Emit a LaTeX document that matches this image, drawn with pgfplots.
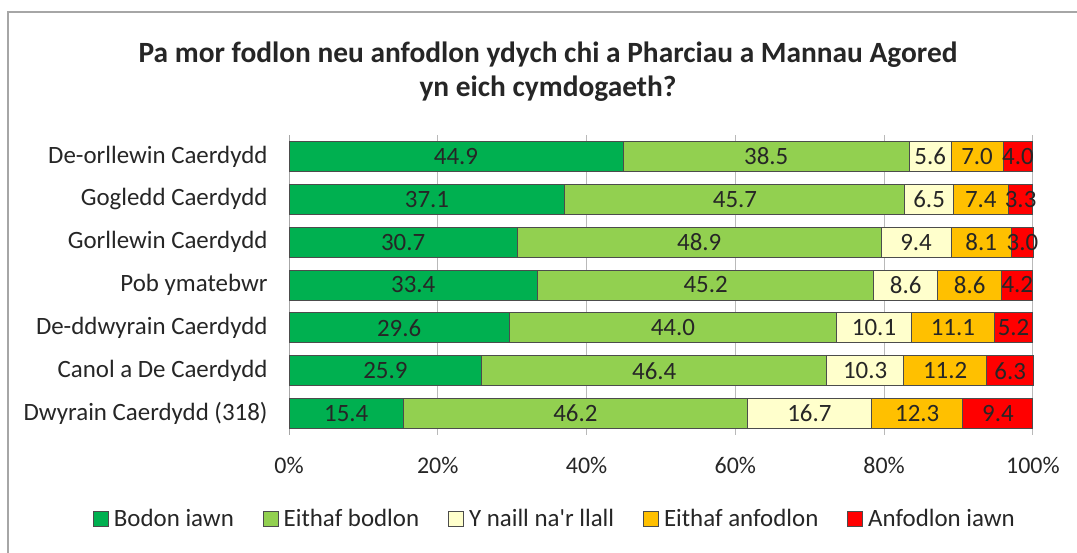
\documentclass[border=0pt]{standalone}
\usepackage{pgfplots}
\pgfplotsset{compat=1.18}
\usepackage{pgfplotstable}
\usepackage{fontspec}
\setmainfont{Carlito}

\definecolor{c1}{HTML}{00B050}
\definecolor{c2}{HTML}{92D050}
\definecolor{c3}{HTML}{FFFFCC}
\definecolor{c4}{HTML}{FFC000}
\definecolor{c5}{HTML}{FF0000}
\definecolor{txt}{HTML}{262626}

% rows top to bottom
\pgfplotstableread{
idx a b c d e
0 44.9 38.5 5.6 7.0 4.0
1 37.1 45.7 6.5 7.4 3.3
2 30.7 48.9 9.4 8.1 3.0
3 33.4 45.2 8.6 8.6 4.2
4 29.6 44.0 10.1 11.1 5.2
5 25.9 46.4 10.3 11.2 6.3
6 15.4 46.2 16.7 12.3 9.4
}\data

\begin{document}
\begin{tikzpicture}
\useasboundingbox (0,0) rectangle (1077bp,553bp);
\fill[white] (0,0) rectangle (1077bp,553bp);
\draw[gray!70, line width=1.3bp] (8bp,0bp) -- (8bp,541bp) -- (1077bp,541bp);

\node[font=\fontsize{29.5}{34}\selectfont\bfseries, text=txt, align=center]
  at (548bp,481bp) {Pa mor fodlon neu anfodlon ydych chi a Pharciau a Mannau Agored\\yn eich cymdogaeth?};

\begin{axis}[
  at={(289bp,118bp)}, anchor=south west,
  scale only axis, width=745bp, height=300bp,
  xbar stacked, bar width=30bp,
  y dir=reverse,
  xmin=0, xmax=100.15, ymin=-0.5, ymax=6.5,
  xtick={0,20,40,60,80,100},
  xticklabel={\pgfmathprintnumber{\tick}\%},
  ytick={0,...,6},
  yticklabels={De-orllewin Caerdydd,Gogledd Caerdydd,Gorllewin Caerdydd,Pob ymatebwr,De-ddwyrain Caerdydd,Canol a De Caerdydd,Dwyrain Caerdydd (318)},
  /pgf/number format/assume math mode=true,
  yticklabel style={font=\fontsize{25}{28}\selectfont, text=txt, xshift=-18bp},
  xticklabel style={font=\fontsize{24}{28}\selectfont, text=txt, yshift=-19bp},
  major tick length=0pt,
  axis x line*=bottom, axis y line*=left,
  x axis line style={draw=none},
  y axis line style={draw=gray!70, line width=1bp},
  xmajorgrids, grid style={gray!55, line width=1bp},
  nodes near coords={\pgfmathprintnumber[fixed,fixed zerofill,precision=1]{\pgfplotspointmeta}},
  point meta=explicit,
  every node near coord/.append style={anchor=center, text=txt,
    font=\fontsize{25}{28}\selectfont},
  legend style={at={(0.357,-0.28)}, anchor=center, draw=none, fill=none,
    legend columns=-1, font=\fontsize{25}{28}\selectfont, text=txt,
    /tikz/every even column/.append style={column sep=27bp}},
  legend image code/.code={\draw[#1, draw=black!70, line width=0.8bp] (0bp,-7bp) rectangle (15bp,8bp);},
  every axis plot/.append style={draw=black!70, line width=1bp},
]
\addplot[fill=c1] table[x=a, y=idx, meta=a] {\data};
\addlegendentry{\hspace{3bp}Bodon iawn}
\addplot[fill=c2] table[x=b, y=idx, meta=b] {\data};
\addlegendentry{\hspace{3bp}Eithaf bodlon}
\addplot[fill=c3] table[x=c, y=idx, meta=c] {\data};
\addlegendentry{\hspace{3bp}Y naill na\textquotesingle r llall}
\addplot[fill=c4] table[x=d, y=idx, meta=d] {\data};
\addlegendentry{\hspace{3bp}Eithaf anfodlon}
\addplot[fill=c5] table[x=e, y=idx, meta=e] {\data};
\addlegendentry{\hspace{3bp}Anfodlon iawn}
\end{axis}
\end{tikzpicture}
\end{document}
